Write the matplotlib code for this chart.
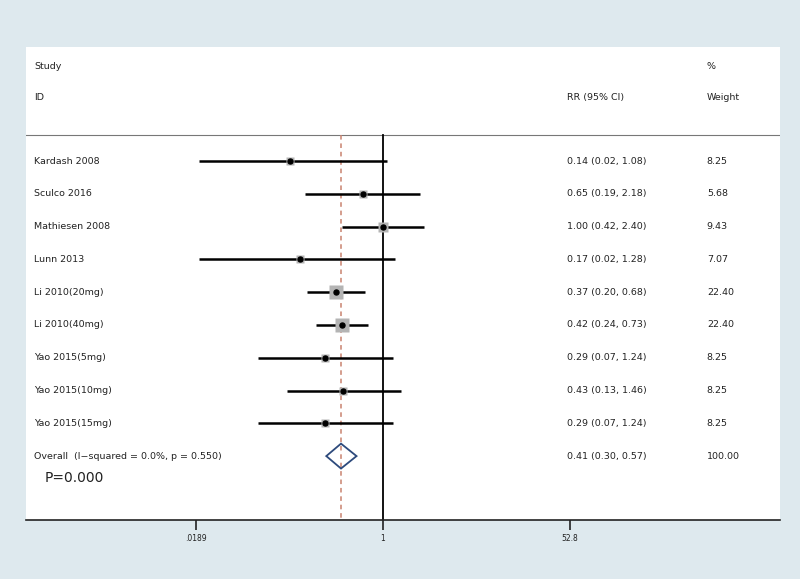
import numpy as np
import matplotlib.pyplot as plt
from matplotlib.patches import Polygon
from matplotlib.transforms import blended_transform_factory

# dados do forest plot
studies = ['Kardash 2008', 'Sculco 2016', 'Mathiesen 2008', 'Lunn 2013',
           'Li 2010(20mg)', 'Li 2010(40mg)', 'Yao 2015(5mg)', 'Yao 2015(10mg)',
           'Yao 2015(15mg)']
rr = [0.14, 0.65, 1.00, 0.17, 0.37, 0.42, 0.29, 0.43, 0.29]
lo = [0.02, 0.19, 0.42, 0.02, 0.20, 0.24, 0.07, 0.13, 0.07]
hi = [1.08, 2.18, 2.40, 1.28, 0.68, 0.73, 1.24, 1.46, 1.24]
weight = [8.25, 5.68, 9.43, 7.07, 22.40, 22.40, 8.25, 8.25, 8.25]

overall_label = 'Overall  (I\u2212squared = 0.0%, p = 0.550)'
overall_rr, overall_lo, overall_hi = 0.41, 0.30, 0.57
overall_weight = 100.00
xticks = [0.0189, 1, 52.8]
xticklabels = ['.0189', '1', '52.8']

bg = '#dee9ee'
txt = '#222222'
fs = 6.8

fig = plt.figure(figsize=(8, 5.79), dpi=100, facecolor=bg)
W, H = 800, 579
ax = fig.add_axes([26 / W, (H - 520) / H, 754 / W, 473 / H])
ax.set_facecolor('white')

# escala log: 1 -> pixel 383, 47.1 px por unidade ln
ppl = 47.1
ax.set_xscale('log')
ax.set_xlim(np.exp((26 - 383) / ppl), np.exp((780 - 383) / ppl))
ax.set_ylim(10.95, -3.48)

for s in ['top', 'right', 'left']:
    ax.spines[s].set_visible(False)
ax.spines['bottom'].set_color('#222222')
ax.spines['bottom'].set_linewidth(1.2)
ax.set_yticks([])
ax.set_xticks(xticks)
ax.set_xticklabels(xticklabels, fontsize=5.5, color=txt)
ax.minorticks_off()
ax.tick_params(axis='x', length=7, width=1.2, color='#222222', pad=3)

n = len(studies)
sep_y = -0.79

# linha separadora e linhas de referencia
ax.axhline(sep_y, color='#777777', lw=0.8)
ax.plot([1, 1], [sep_y, 10.95], color='black', lw=1.3, zorder=2)
ax.plot([overall_rr, overall_rr], [sep_y, 10.95], color='#c9826f', lw=1.1,
        ls=(0, (3, 2.5)), zorder=2)

rows = np.arange(n)
ax.hlines(rows, lo, hi, color='black', lw=1.8, zorder=3)
sizes = 14 * np.sqrt(np.array(weight) / max(weight))
for i in range(n):
    ax.plot(rr[i], rows[i], marker='s', ms=sizes[i] * 0.75, color='#b4b4b4',
            mec='none', zorder=4)
ax.plot(rr, rows, 'o', color='black', ms=3.6, zorder=5)

# diamante do efeito global
yo = n
dh = 0.38
diamond = Polygon([(overall_lo, yo), (overall_rr, yo - dh), (overall_hi, yo),
                   (overall_rr, yo + dh)], closed=True, fill=False,
                  edgecolor='#2d4a7c', lw=1.3, zorder=5)
ax.add_patch(diamond)

# textos
tr = blended_transform_factory(ax.transAxes, ax.transData)
x_id, x_rr, x_w = 0.0106, 0.7175, 0.903
ax.text(x_id, -2.87, 'Study', transform=tr, fontsize=fs, color=txt, va='center')
ax.text(x_id, -1.95, 'ID', transform=tr, fontsize=fs, color=txt, va='center')
ax.text(x_rr, -1.95, 'RR (95% CI)', transform=tr, fontsize=fs, color=txt, va='center')
ax.text(x_w, -2.87, '%', transform=tr, fontsize=fs, color=txt, va='center')
ax.text(x_w, -1.95, 'Weight', transform=tr, fontsize=fs, color=txt, va='center')

for i in range(n):
    ax.text(x_id, i, studies[i], transform=tr, fontsize=fs, color=txt, va='center')
    ax.text(x_rr, i, f'{rr[i]:.2f} ({lo[i]:.2f}, {hi[i]:.2f})', transform=tr,
            fontsize=fs, color=txt, va='center')
    ax.text(x_w, i, f'{weight[i]:.2f}', transform=tr, fontsize=fs, color=txt,
            va='center')

ax.text(x_id, yo, overall_label, transform=tr, fontsize=fs, color=txt, va='center')
ax.text(x_rr, yo, f'{overall_rr:.2f} ({overall_lo:.2f}, {overall_hi:.2f})',
        transform=tr, fontsize=fs, color=txt, va='center')
ax.text(x_w, yo, f'{overall_weight:.2f}', transform=tr, fontsize=fs, color=txt,
        va='center')
ax.text(0.025, 9.66, 'P=0.000', transform=tr, fontsize=10, color=txt, va='center')

fig.savefig('out.png', dpi=100, facecolor=bg)
